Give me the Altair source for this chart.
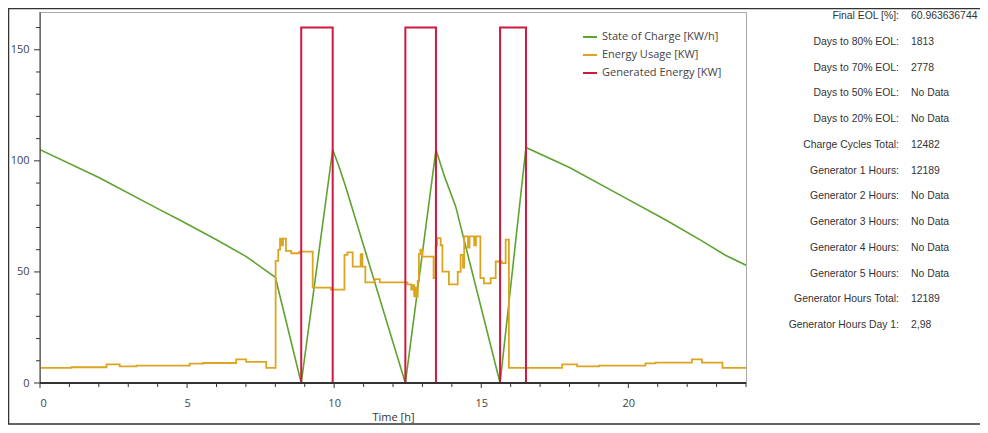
import altair as alt
import pandas as pd

# ---- data ----
series_names = ["State of Charge [KW/h]", "Energy Usage [KW]", "Generated Energy [KW]"]
series_colors = ["#5ea32f", "#dba520", "#d01840"]

soc_t = [0, 2, 4, 4.75, 6, 7, 8.0, 8.88, 9.95, 10.15, 10.4, 12.42, 13.46, 13.75, 14.13,
         15.64, 16.52, 18, 19.66, 21.26, 22.5, 23.3, 24]
soc_v = [105, 92.5, 78.5, 73.4, 64.5, 57, 47.6, 0, 105, 98, 88, 0, 105, 93, 79.5,
         0, 106, 97, 85, 73.5, 64, 57.5, 53]

usage_t = [0, 1.07, 2.26, 2.71, 3.28, 5.09, 5.54, 6.67, 7.01, 7.69,
           8.01, 8.1, 8.16, 8.22, 8.26, 8.36, 8.54, 8.82, 9.27, 9.89,
           10.35, 10.45, 10.63, 10.9, 10.96, 11.06, 11.38, 11.55, 12.49, 12.62,
           12.68, 12.72, 12.76, 12.8, 12.84, 12.88, 12.93, 13.0, 13.38, 13.45,
           13.5, 13.62, 13.68, 13.9, 14.2, 14.3, 14.38, 14.42, 14.55, 14.6,
           14.76, 14.82, 14.97, 15.09, 15.32, 15.49, 15.7, 15.83, 15.94, 17.75,
           18.26, 19.0, 20.58, 20.92, 22.16, 22.5, 23.2, 24]
usage_v = [6.8, 7.1, 8.4, 7.5, 7.8, 8.7, 9.0, 10.6, 9.5, 6.8,
           55, 60, 65, 62, 65, 59.5, 58.4, 59.1, 42.9, 42.0,
           57.7, 58.8, 52.4, 58, 52.4, 45.3, 46.8, 45.3, 44.4, 42,
           44, 39, 43, 38.9, 46, 58, 60, 56.9, 47.2, 62,
           65.2, 62, 50.1, 44.4, 50, 57.7, 52, 66, 61, 66,
           62, 66, 47.2, 44.8, 47.2, 54.7, 54, 64.5, 6.8, 8.4,
           7.5, 7.8, 8.8, 9.2, 10.6, 9.2, 6.8, 6.8]

gen_t = [0, 8.88, 9.95, 12.42, 13.46, 15.64, 16.52, 24]
gen_v = [0, 160, 0, 160, 0, 160, 0, 0]

x_major = [0, 5, 10, 15, 20]
x_minor = [h for h in range(0, 25) if h % 5 != 0]
y_major = [0, 50, 100, 150]
y_minor = [v for v in range(0, 170, 10) if v % 50 != 0]

stat_labels = ["Final EOL [%]:", "Days to 80% EOL:", "Days to 70% EOL:", "Days to 50% EOL:",
               "Days to 20% EOL:", "Charge Cycles Total:", "Generator 1 Hours:",
               "Generator 2 Hours:", "Generator 3 Hours:", "Generator 4 Hours:",
               "Generator 5 Hours:", "Generator Hours Total:", "Generator Hours Day 1:"]
stat_values = ["60.963636744", "1813", "2778", "No Data", "No Data", "12482", "12189",
               "No Data", "No Data", "No Data", "No Data", "12189", "2,98"]

# ---- tables ----
df = pd.concat([
    pd.DataFrame({"t": soc_t, "v": soc_v, "series": series_names[0]}),
    pd.DataFrame({"t": usage_t, "v": usage_v, "series": series_names[1]}),
    pd.DataFrame({"t": gen_t, "v": gen_v, "series": series_names[2]}),
], ignore_index=True)
stats = pd.DataFrame({"row": list(range(len(stat_labels))), "label": stat_labels, "value": stat_values})

W, H = 706, 371
FONT = "Open Sans"
AX = "#333333"

x_axis = alt.Axis(
    values=x_major, labelOverlap=False, domain=False, ticks=False,
    labelPadding=14, labelFontSize=11, labelColor="#444", labelFont=FONT, grid=False,
    title="Time [h]", titleFont=FONT, titleFontSize=11, titleFontWeight="normal",
    titleColor="#333", titlePadding=3,
)
y_axis = alt.Axis(
    values=y_major, labelOverlap=False, domain=False, ticks=False,
    labelPadding=11, labelFontSize=11, labelColor="#444", labelFont=FONT, grid=False,
    title=None,
)

xs = alt.Scale(domain=[0, 24], nice=False, zero=False)
ys = alt.Scale(domain=[0, 167], nice=False)
cs = alt.Scale(domain=series_names, range=series_colors)

legend = alt.Legend(
    title=None, orient="none", legendX=542, legendY=17, padding=0,
    symbolType="stroke", symbolSize=196, symbolStrokeWidth=2,
    labelFont=FONT, labelFontSize=11, labelColor="#444", rowPadding=5, labelOffset=4,
)

base = alt.Chart(df)

def series_layer(name, **mark_kw):
    return base.transform_filter(alt.datum.series == name).mark_line(clip=True, **mark_kw).encode(
        x=alt.X("t:Q", scale=xs, axis=x_axis),
        y=alt.Y("v:Q", scale=ys, axis=y_axis),
        color=alt.Color("series:N", scale=cs, legend=legend),
    )

soc = series_layer(series_names[0], strokeWidth=1.6)
usage = series_layer(series_names[1], strokeWidth=1.8, interpolate="step-after")
gen = series_layer(series_names[2], strokeWidth=2, interpolate="step-after")

# axis lines and tick marks drawn on top of the data
one = pd.DataFrame({"k": [0]})
x_dom = alt.Chart(one).mark_rule(color=AX, strokeWidth=2).encode(
    x=alt.value(0), x2=alt.value(W), y=alt.value(H))
y_dom = alt.Chart(one).mark_rule(color=AX, strokeWidth=1).encode(
    x=alt.value(0), y=alt.value(0), y2=alt.value(H))
x_maj = alt.Chart(pd.DataFrame({"t": x_major})).mark_rule(color=AX, strokeWidth=1).encode(
    x=alt.X("t:Q", scale=xs), y=alt.value(H), y2=alt.value(H + 5))
x_min = alt.Chart(pd.DataFrame({"t": x_minor})).mark_rule(color=AX, strokeWidth=1).encode(
    x=alt.X("t:Q", scale=xs), y=alt.value(H), y2=alt.value(H + 4))
y_maj = alt.Chart(pd.DataFrame({"v": y_major})).mark_rule(color=AX, strokeWidth=1).encode(
    y=alt.Y("v:Q", scale=ys), x=alt.value(-6), x2=alt.value(0))
y_min = alt.Chart(pd.DataFrame({"v": y_minor})).mark_rule(color=AX, strokeWidth=1).encode(
    y=alt.Y("v:Q", scale=ys), x=alt.value(-4), x2=alt.value(0))

lines = alt.layer(soc, usage, gen, x_dom, y_dom, x_maj, x_min, y_maj, y_min)

# stats panel to the right of the plot
row_scale = alt.Scale(domain=[-4 / 25.75, (H - 4) / 25.75], reverse=True, nice=False, zero=False)
sbase = alt.Chart(stats)
lbl = sbase.mark_text(align="right", baseline="middle", font="Liberation Sans", fontSize=10.4,
                      color="#333").encode(
    x=alt.value(859), y=alt.Y("row:Q", scale=row_scale, axis=None), text="label:N")
val = sbase.mark_text(align="left", baseline="middle", font="Liberation Sans", fontSize=10.4,
                      color="#333").encode(
    x=alt.value(871), y=alt.Y("row:Q", scale=row_scale, axis=None), text="value:N")
panel = alt.layer(lbl, val)

frame = alt.Chart(one).mark_rect(
    filled=False, stroke="#333", strokeWidth=1.5, clip=False
).encode(x=alt.value(-31.5), x2=alt.value(950), y=alt.value(-3.5), y2=alt.value(412))

chart = alt.layer(frame, lines, panel).resolve_scale(y="independent").properties(
    width=W, height=H, background="white",
    autosize=alt.AutoSizeParams(type="none"),
    padding={"left": 32, "top": 4, "right": 234, "bottom": 42},
).configure_view(stroke="#a8a8a8", strokeWidth=1)

chart.save("out.html", embed_options={"renderer": "svg", "actions": False})
